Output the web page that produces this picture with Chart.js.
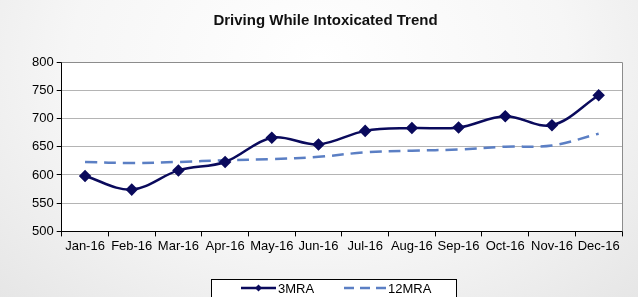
<!DOCTYPE html>
<html>
<head>
<meta charset="utf-8">
<script src="https://cdn.jsdelivr.net/npm/chart.js@4"></script>
<style>
  html, body { margin: 0; padding: 0; }
  body {
    width: 638px; height: 297px; overflow: hidden;
    background: radial-gradient(ellipse at 50% 20%, #ffffff 0%, #f6f6f6 55%, #e6e6e6 100%);
  }
  #wrap { position: relative; width: 638px; height: 297px; }
</style>
</head>
<body>
<div id="wrap"><canvas id="dwiChart" width="638" height="297"></canvas></div>
<script>
const months = ["Jan-16", "Feb-16", "Mar-16", "Apr-16", "May-16", "Jun-16",
  "Jul-16", "Aug-16", "Sep-16", "Oct-16", "Nov-16", "Dec-16"];
const mra3 = [598, 574, 608, 623, 666, 654, 678, 683, 684, 704, 688, 741];
const mra12 = [623, 621, 623, 626, 628, 632, 640, 643, 645, 650, 652, 673];
const yTicks = [500, 550, 600, 650, 700, 750, 800];

const navy = "#0a0a5c";
const dashBlue = "#5b7fc4";

// white plot area + grey frame on top/right
const plotFrame = {
  id: "plotFrame",
  beforeDraw(chart) {
    const { ctx, chartArea: a } = chart;
    ctx.save();
    ctx.fillStyle = "#ffffff";
    ctx.fillRect(a.left, a.top, a.right - a.left, a.bottom - a.top);
    ctx.restore();
  },
  afterDraw(chart) {
    const { ctx, chartArea: a } = chart;
    ctx.save();
    ctx.strokeStyle = "#8c8c8c";
    ctx.lineWidth = 1;
    ctx.beginPath();
    ctx.moveTo(a.left, a.top + 0.5);
    ctx.lineTo(a.right + 0.5, a.top + 0.5);
    ctx.lineTo(a.right + 0.5, a.bottom);
    ctx.stroke();
    ctx.restore();
  }
};

// boxed legend like the spreadsheet one
const boxLegend = {
  id: "boxLegend",
  afterDraw(chart) {
    const { ctx } = chart;
    const cx = chart.width / 2;
    const top = 279, left = cx - 108, w = 245, h = 24;
    ctx.save();
    ctx.fillStyle = "#ffffff";
    ctx.fillRect(left, top, w, h);
    ctx.strokeStyle = "#000000";
    ctx.lineWidth = 1;
    ctx.strokeRect(left + 0.5, top + 0.5, w, h);

    const midY = top + 9;
    // 3MRA sample
    ctx.strokeStyle = navy;
    ctx.lineWidth = 2.5;
    ctx.beginPath();
    ctx.moveTo(left + 30, midY);
    ctx.lineTo(left + 65, midY);
    ctx.stroke();
    ctx.fillStyle = navy;
    ctx.beginPath();
    ctx.moveTo(left + 47.5, midY - 3.5);
    ctx.lineTo(left + 51, midY);
    ctx.lineTo(left + 47.5, midY + 3.5);
    ctx.lineTo(left + 44, midY);
    ctx.closePath();
    ctx.fill();

    // 12MRA sample
    ctx.strokeStyle = dashBlue;
    ctx.lineWidth = 2.5;
    ctx.setLineDash([10, 6]);
    ctx.beginPath();
    ctx.moveTo(left + 133, midY);
    ctx.lineTo(left + 175, midY);
    ctx.stroke();
    ctx.setLineDash([]);

    ctx.fillStyle = "#000000";
    ctx.font = "13px 'Liberation Sans', Arial, sans-serif";
    ctx.textBaseline = "middle";
    ctx.fillText("3MRA", left + 67, midY + 1);
    ctx.fillText("12MRA", left + 177, midY + 1);
    ctx.restore();
  }
};

new Chart(document.getElementById("dwiChart"), {
  type: "line",
  data: {
    labels: months,
    datasets: [
      {
        label: "3MRA",
        data: mra3,
        borderColor: navy,
        backgroundColor: navy,
        borderWidth: 2.5,
        tension: 0.35,
        pointStyle: "rectRot",
        pointRadius: 4.5,
        pointHoverRadius: 4.5,
        pointBackgroundColor: navy,
        pointBorderColor: navy,
        order: 1
      },
      {
        label: "12MRA",
        data: mra12,
        borderColor: dashBlue,
        backgroundColor: dashBlue,
        borderWidth: 2.5,
        borderDash: [12, 7],
        tension: 0.35,
        pointRadius: 0,
        order: 2
      }
    ]
  },
  options: {
    responsive: false,
    animation: false,
    layout: { padding: { left: 29, right: 16, top: 0, bottom: 41 } },
    plugins: {
      legend: { display: false },
      tooltip: { enabled: false },
      title: {
        display: true,
        text: "Driving While Intoxicated Trend",
        color: "#111111",
        font: { family: "'Liberation Sans', Arial, sans-serif", size: 15, weight: "bold" },
        padding: { top: 12, bottom: 32 }
      }
    },
    scales: {
      x: {
        offset: true,
        grid: {
          offset: true,
          drawOnChartArea: false,
          drawTicks: true,
          tickLength: 5,
          tickColor: "#000000"
        },
        border: { color: "#000000", width: 1 },
        ticks: {
          color: "#000000",
          maxRotation: 0,
          autoSkip: false,
          padding: 2,
          font: { family: "'Liberation Sans', Arial, sans-serif", size: 13 }
        }
      },
      y: {
        min: yTicks[0],
        max: yTicks[yTicks.length - 1],
        afterBuildTicks(scale) {
          scale.ticks = yTicks.map(v => ({ value: v }));
        },
        grid: {
          color: "#b4b4b4",
          tickColor: "#000000",
          tickLength: 5
        },
        border: { color: "#000000", width: 1 },
        ticks: {
          color: "#000000",
          padding: 3,
          font: { family: "'Liberation Sans', Arial, sans-serif", size: 13 }
        }
      }
    }
  },
  plugins: [plotFrame, boxLegend]
});
</script>
</body>
</html>
